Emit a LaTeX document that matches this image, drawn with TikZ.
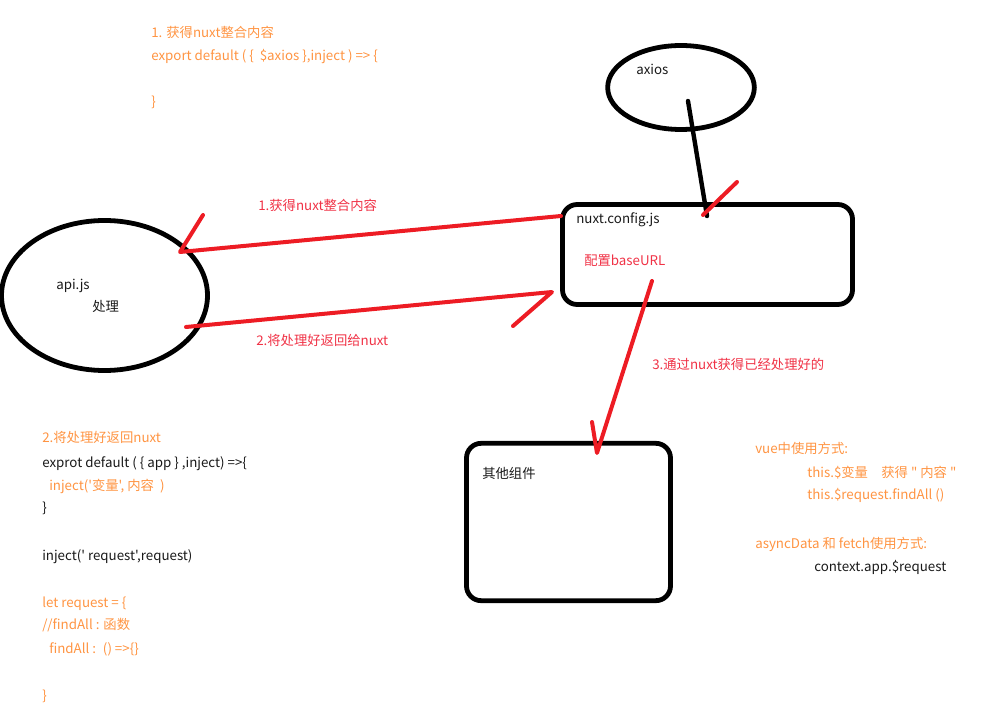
\documentclass[tikz,border=0pt]{standalone}
\usepackage{fontspec}
\setmainfont{Noto Sans CJK SC}[Ligatures=TeXOff]
\usetikzlibrary{shapes.geometric}
\definecolor{codeorange}{RGB}{255,148,66}
\definecolor{notered}{RGB}{240,50,70}
\definecolor{penred}{RGB}{237,28,36}
\definecolor{inkblack}{RGB}{25,25,25}
\tikzset{
  blob/.style={draw=black, line width=3.6pt, ellipse, inner sep=0pt},
  board/.style={draw=black, line width=3.6pt, rounded corners=11pt, inner sep=0pt},
  txt/.style={anchor=base west, inner sep=0pt, font=\fontsize{10pt}{12pt}\selectfont, text=inkblack},
  code/.style={txt, text=codeorange},
  note/.style={txt, text=notered},
  pen/.style={line width=3pt, line cap=round, line join=round},
}

\begin{document}
\begin{tikzpicture}[x=0.75pt, y=-0.75pt]
			\useasboundingbox (0,0) rectangle (996,716);
			
			%%%%% SHAPES %%%%%
			
			\node[blob, minimum width=110pt, minimum height=63pt] (axios) at (681,87.5) {};
			\node[blob, minimum width=154.5pt, minimum height=112.5pt] (api) at (104.5,295.5) {};
			\node[board, minimum width=217.5pt, minimum height=75pt] (cfg) at (707.5,254.5) {};
			\node[board, minimum width=153pt, minimum height=118pt] (comp) at (568.5,522) {};
			
			\node[txt] (axiosname) at (636,75) {axios};
			\node[txt] (apiname) at (56,290) {api.js};
			\node[txt] (apijob) at (92,312) {处理};
			\node[txt] (cfgname) at (576,224) {nuxt.config.js};
			\node[note] (cfgjob) at (584,266) {配置baseURL};
			\node[txt] (compname) at (482,479) {其他组件};
			
			%%%%% CONNECTORS %%%%%
			
			\coordinate (axiosOut) at (688,101);
			\coordinate (cfgTop) at (707,216);
			\draw[pen, line width=3.3pt] (axiosOut) -- (cfgTop);
			\coordinate (tickLo) at (703,215);
			\coordinate (tickHi) at (737,182);
			\draw[pen, penred] (tickLo) -- (tickHi);
			
			\coordinate (cfgLeft) at (561,216);
			\coordinate (apiHit) at (180,252);
			\coordinate (barbA) at (203,215);
			\draw[pen, penred] (cfgLeft) -- (apiHit) -- (barbA);
			
			\coordinate (apiRight) at (186,327);
			\coordinate (cfgHit) at (552,292);
			\coordinate (barbB) at (513,326);
			\draw[pen, penred] (apiRight) -- (cfgHit) -- (barbB);
			
			\coordinate (cfgLow) at (652,281);
			\coordinate (compHit) at (597,453);
			\coordinate (barbC) at (592,422);
			\draw[pen, penred] (cfgLow) -- (compHit) -- (barbC);
			
			\node[note] (stepA) at (258,211) {1.获得nuxt整合内容};
			\node[note] (stepB) at (256,346) {2.将处理好返回给nuxt};
			\node[note] (stepC) at (652,370) {3.通过nuxt获得已经处理好的};
			
			%%%%% CODE NOTES %%%%%
			
			\node[code] (plugA) at (151,38) {1. 获得nuxt整合内容};
			\node[code] (plugB) at (151,61) {export default ( \{ \ \$axios \},inject ) => \{};
			\node[code] (plugC) at (151,107) {\}};
			
			\node[code] (injA) at (42,442) {2.将处理好返回nuxt};
			\node[txt] (injB) at (42,467) {exprot default ( \{ app \} ,inject) =>\{};
			\node[code] (injC) at (49,490) {inject('变量', 内容 \ )};
			\node[txt] (injD) at (42,512) {\}};
			\node[txt] (injE) at (42,560) {inject(' request',request)};
			\node[code] (injF) at (42,607) {let request = \{};
			\node[code] (injG) at (42,629) {//findAll : 函数};
			\node[code] (injH) at (49,653) {findAll : \ () =>\{\}};
			\node[code] (injI) at (42,700) {\}};
			
			\node[code] (useA) at (755,454) {vue中使用方式:};
			\node[code] (useB) at (807,477) {this.\$变量\quad 获得 " 内容 "};
			\node[code] (useC) at (807,499) {this.\$request.findAll ()};
			\node[code] (useD) at (755,548) {asyncData 和 fetch使用方式:};
			\node[txt] (useE) at (814,571) {context.app.\$request};
			
\end{tikzpicture}
\end{document}
